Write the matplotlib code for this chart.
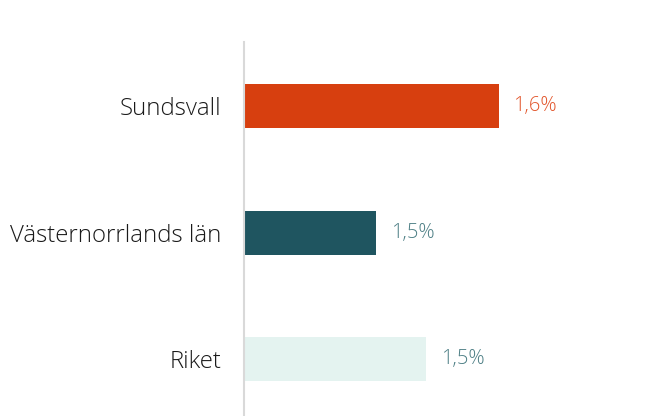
import matplotlib.pyplot as plt

# data
categories = ['Sundsvall', 'Västernorrlands län', 'Riket']
values = [1.60, 1.46, 1.517]
labels = ['1,6%', '1,5%', '1,5%']
bar_colors = ['#d73f0f', '#1f5560', '#e4f3f0']
label_colors = ['#e2552b', '#4d7f85', '#4d7f85']

fam = ['Open Sans', 'DejaVu Sans']

fig = plt.figure(figsize=(6.54, 4.16), dpi=100)
ax = fig.add_axes([244 / 654, 0, 1 - 244 / 654, 1 - 42 / 416])

pos = list(range(len(categories)))
ax.barh(pos, values, height=0.348, color=bar_colors, left=0)
ax.set_xlim(1.31, 1.777)
ax.set_ylim(2.45, -0.506)

for i, v in enumerate(values):
    ax.text(v + 0.017, i, labels[i], va='center', ha='left', fontsize=14.5,
            color=label_colors[i], family=fam, fontweight='light')

ax.set_yticks(pos)
ax.set_yticklabels(categories, family=fam, fontweight='light', fontsize=17.3, color='#1a1a1a')
ax.tick_params(axis='y', length=0, pad=16)
ax.set_xticks([])
for s in ['top', 'right', 'bottom']:
    ax.spines[s].set_visible(False)
ax.spines['left'].set_color('#d9d9d9')
ax.spines['left'].set_linewidth(1.5)

fig.savefig('out.png', dpi=100)
